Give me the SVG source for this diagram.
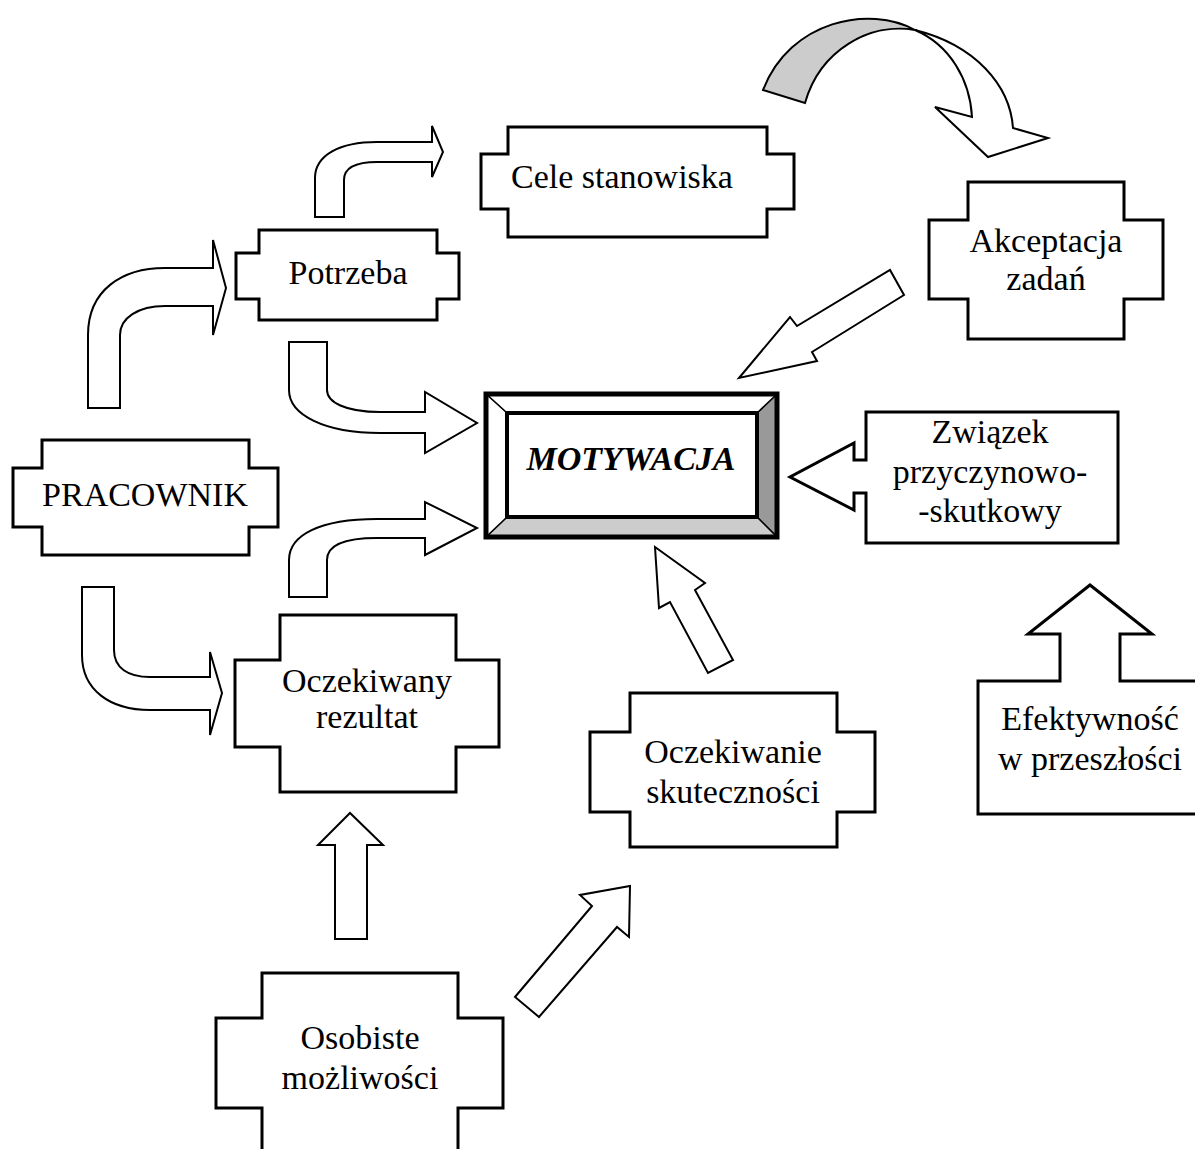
<svg xmlns="http://www.w3.org/2000/svg" width="1195" height="1149" viewBox="0 0 1195 1149">
<style>
.node{fill:#fff;stroke:#000;stroke-width:3;stroke-linejoin:miter}
.arr{fill:#fff;stroke:#000;stroke-width:2;stroke-linejoin:miter}
.t{font-family:"Liberation Serif","Times New Roman",serif;font-size:34px;fill:#000;text-anchor:middle}
.b{font-weight:bold;font-style:italic}
</style>
<rect width="1195" height="1149" fill="#fff"/>
<g id="connectors">
  <path class="arr" d="M88,408 V335 C88,290 122,268 165,268 H213 V240 L226,288 L213,335 V306 H165 C138,306 120,318 120,335 V408 Z"/>
  <path class="arr" d="M315,217 V178 C315,155 340,142 377,142 H432 V126 L443,152 L432,177 V162 H377 C355,162 344,168 344,180 V217 Z"/>
  <path class="arr" d="M289,342 H327 V390 C327,402 345,412 380,412 H425 V392 L477,423 L425,453 V433 H380 C325,433 289,415 289,390 Z"/>
  <path class="arr" d="M82,587 H114 V650 C114,668 128,677 150,677 H210 V652 L222,693 L210,735 V710 H150 C110,710 82,690 82,655 Z"/>
  <path class="arr" d="M289,597 V560 C289,535 320,519 377,519 H425 V502 L477,528 L425,555 V538 H377 C345,538 327,545 327,560 V597 Z"/>
  <polygon class="arr" points="739,378 790,317 797,326 890,270 904,295 812,352 817,361"/>
  <polygon class="arr" points="655,547 705,583 695,590 733,660 708,673 670,602 659,608"/>
  <path class="arr" d="M335,939 V845 H318 L350,813 L383,845 H367 V939 Z"/>
  <polygon class="arr" points="630,886 629,937 617,927 539,1017 515,997 592,906 580,895"/>
  <path d="M763,90 C790,20 870,5 915,30 C870,22 820,50 805,103 Z" fill="#ccc" stroke="#000" stroke-width="2" stroke-linejoin="miter"/>
  <path class="arr" d="M915,30 C975,45 1010,85 1013,128 L1048,138 L988,157 L935,107 L972,117 C970,80 950,45 915,30 Z"/>
</g>
<g id="node-potrzeba">
  <path class="node" d="M259,230 H437 V253 H459 V299 H437 V320 H259 V299 H236 V253 H259 Z"/>
  <text class="t" x="348" y="284">Potrzeba</text>
</g>
<g id="node-cele">
  <path class="node" d="M508,127 H767 V154 H794 V209 H767 V237 H508 V209 H481 V154 H508 Z"/>
  <text class="t" x="622" y="188">Cele stanowiska</text>
</g>
<g id="node-akceptacja">
  <path class="node" d="M968,182 H1124 V220 H1163 V299 H1124 V339 H968 V299 H929 V220 H968 Z"/>
  <text class="t" x="1046" y="252">Akceptacja</text>
  <text class="t" x="1046" y="290">zadań</text>
</g>
<g id="node-pracownik">
  <path class="node" d="M42,440 H249 V468 H278 V527 H249 V555 H42 V527 H13 V468 H42 Z"/>
  <text class="t" x="145" y="506">PRACOWNIK</text>
</g>
<g id="node-motywacja">
  <rect x="486" y="394" width="291" height="143" fill="#fff"/>
  <polygon points="777,394 777,537 757,517 757,413" fill="#999" stroke="#000" stroke-width="1.5"/>
  <polygon points="486,537 777,537 757,517 507,517" fill="#ccc" stroke="#000" stroke-width="1.5"/>
  <polygon points="486,394 777,394 757,413 507,413" fill="#fff" stroke="#000" stroke-width="1.5"/>
  <polygon points="486,394 507,413 507,517 486,537" fill="#fff" stroke="#000" stroke-width="1.5"/>
  <rect x="507" y="413" width="250" height="104" fill="#fff" stroke="#000" stroke-width="4"/>
  <rect x="486" y="394" width="291" height="143" fill="none" stroke="#000" stroke-width="5"/>
  <text class="t b" x="631" y="470">MOTYWACJA</text>
</g>
<g id="node-zwiazek">
  <path class="node" d="M866,412 H1118 V543 H866 V493 H854 V510 L790,477 L854,443 V460 H866 Z"/>
  <text class="t" x="990" y="443">Związek</text>
  <text class="t" x="990" y="483">przyczynowo-</text>
  <text class="t" x="990" y="522">-skutkowy</text>
</g>
<g id="node-oczekiwany">
  <path class="node" d="M280,615 H456 V660 H499 V747 H456 V792 H280 V747 H235 V660 H280 Z"/>
  <text class="t" x="367" y="692">Oczekiwany</text>
  <text class="t" x="367" y="728">rezultat</text>
</g>
<g id="node-oczekiwanie">
  <path class="node" d="M630,693 H837 V732 H875 V812 H837 V847 H630 V812 H590 V732 H630 Z"/>
  <text class="t" x="733" y="763">Oczekiwanie</text>
  <text class="t" x="733" y="803">skuteczności</text>
</g>
<g id="node-efektywnosc">
  <path class="node" d="M978,681 H1060 V634 H1028 L1090,585 L1152,634 H1120 V681 H1202 V814 H978 Z"/>
  <text class="t" x="1090" y="730">Efektywność</text>
  <text class="t" x="1090" y="770">w przeszłości</text>
</g>
<g id="node-osobiste">
  <path class="node" d="M262,1160 V1108 H216 V1018 H262 V973 H458 V1018 H503 V1108 H458 V1160"/>
  <text class="t" x="360" y="1049">Osobiste</text>
  <text class="t" x="360" y="1089">możliwości</text>
</g>
</svg>
